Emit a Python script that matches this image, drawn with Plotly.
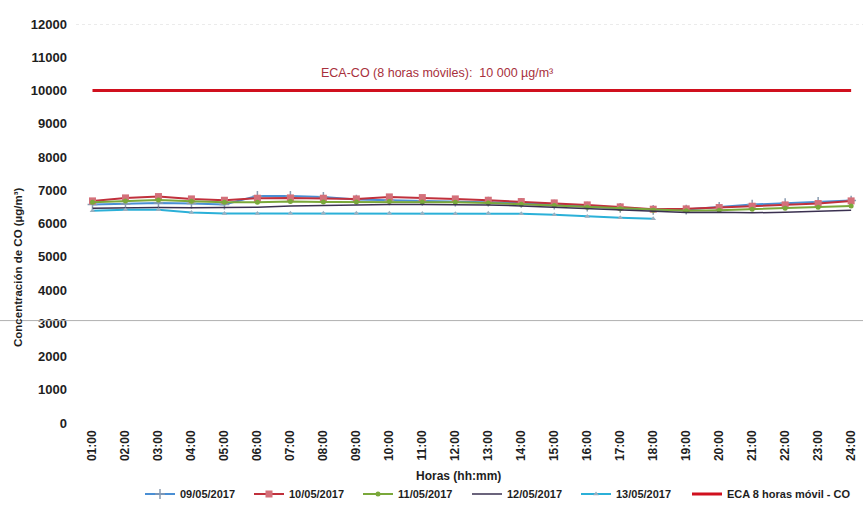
import plotly.graph_objects as go

hours = ["01:00", "02:00", "03:00", "04:00", "05:00", "06:00", "07:00", "08:00",
         "09:00", "10:00", "11:00", "12:00", "13:00", "14:00", "15:00", "16:00",
         "17:00", "18:00", "19:00", "20:00", "21:00", "22:00", "23:00", "24:00"]

s_0905 = [6570, 6590, 6620, 6600, 6570, 6830, 6830, 6800, 6720, 6700, 6680, 6660,
          6660, 6620, 6570, 6510, 6470, 6410, 6420, 6500, 6570, 6610, 6650, 6690]
s_1005 = [6680, 6770, 6810, 6740, 6700, 6760, 6770, 6760, 6740, 6800, 6780, 6740,
          6700, 6660, 6620, 6560, 6500, 6430, 6440, 6480, 6520, 6560, 6600, 6680]
s_1105 = [6640, 6680, 6710, 6670, 6640, 6640, 6660, 6650, 6650, 6660, 6650, 6640,
          6620, 6580, 6540, 6490, 6440, 6400, 6380, 6400, 6430, 6460, 6490, 6530]
s_1205 = [6460, 6480, 6480, 6470, 6470, 6490, 6530, 6550, 6560, 6570, 6570, 6570,
          6560, 6530, 6490, 6440, 6400, 6370, 6330, 6340, 6320, 6340, 6370, 6400]
s_1305 = [6380, 6410, 6410, 6330, 6300, 6300, 6310, 6310, 6310, 6310, 6300, 6290,
          6310, 6290, 6260, 6210, 6170, 6140, None, None, None, None, None, None]
eca = [10000] * len(hours)

y_ticks = [0, 1000, 2000, 3000, 4000, 5000, 6000, 7000, 8000, 9000, 10000, 11000, 12000]

FONT = "Liberation Sans"
TXT = "#1E1E1E"

fig = go.Figure()
fig.add_trace(go.Scatter(x=hours, y=s_0905, name="09/05/2017", mode="lines+markers",
                         line=dict(color="#4A8FD4", width=2),
                         marker=dict(symbol="cross-thin", size=7, line=dict(color="#8A9BB0", width=1.5))))
fig.add_trace(go.Scatter(x=hours, y=s_1005, name="10/05/2017", mode="lines+markers",
                         line=dict(color="#C0303C", width=2),
                         marker=dict(symbol="square", size=7, color="#D4707A")))
fig.add_trace(go.Scatter(x=hours, y=s_1105, name="11/05/2017", mode="lines+markers",
                         line=dict(color="#7AA83A", width=2),
                         marker=dict(symbol="circle", size=5, color="#7AA83A")))
fig.add_trace(go.Scatter(x=hours, y=s_1205, name="12/05/2017", mode="lines",
                         line=dict(color="#3A3050", width=1.5)))
fig.add_trace(go.Scatter(x=hours, y=s_1305, name="13/05/2017", mode="lines+markers",
                         line=dict(color="#2BB0D8", width=2),
                         marker=dict(symbol="triangle-up", size=5, color="#9AB0C0")))
fig.add_trace(go.Scatter(x=hours, y=eca, name="ECA 8 horas móvil - CO", mode="lines",
                         line=dict(color="#D0101E", width=3), legend="legend2"))

fig.add_annotation(x=0.459, xref="paper", y=10000, yref="y", yshift=18,
                   text="ECA-CO (8 horas móviles):  10 000 µg/m³", showarrow=False,
                   font=dict(family=FONT, size=12.5, color="#A8303C"), xanchor="center")

# axis titles as annotations (paper coords: plot area x 76..863, y 24..423 px)
fig.add_annotation(x=(458 - 76) / 787, xref="paper", y=(423 - 476) / 399, yref="paper",
                   xanchor="center", yanchor="middle",
                   text="<b>Horas (hh:mm)</b>", showarrow=False,
                   font=dict(family=FONT, size=12, color=TXT))
fig.add_annotation(x=(18 - 76) / 787, xref="paper", y=(423 - 268) / 399, yref="paper",
                   xanchor="center", yanchor="middle",
                   text="<b>Concentración de CO (µg/m³)</b>", showarrow=False, textangle=-90,
                   font=dict(family=FONT, size=11.5, color=TXT))

# faint top line at 12000
fig.add_shape(type="line", xref="paper", x0=0.0, x1=1, y0=12000, y1=12000, yref="y",
              line=dict(color="#D8D8D8", width=1, dash="dot"))
# scan line near 3000
fig.add_shape(type="line", xref="paper", x0=-0.1, x1=1, y0=3080, y1=3080, yref="y",
              line=dict(color="#B0B0B0", width=1))

legend_common = dict(orientation="h", xref="container",
                     yref="container", y=13/507, yanchor="middle",
                     font=dict(family=FONT, size=11, color=TXT),
                     itemwidth=30, bgcolor="rgba(0,0,0,0)")

fig.update_layout(
    width=863, height=507,
    margin=dict(l=76, r=0, t=24, b=84, autoexpand=False),
    paper_bgcolor="white", plot_bgcolor="white",
    font=dict(family=FONT, size=11, color=TXT),
    showlegend=True,
    legend=dict(x=140/863, xanchor="left", entrywidth=64, entrywidthmode="pixels", **legend_common),
    legend2=dict(x=856/863, xanchor="right", **legend_common),
    xaxis=dict(type="category", range=[-0.5, 23.36], tickangle=-90,
               showgrid=False, showline=False, zeroline=False, ticks="",
               automargin=False, ticklabelstandoff=4,
               tickfont=dict(family=FONT, size=12, color=TXT)),
    yaxis=dict(range=[0, 12000], tickvals=y_ticks,
               ticktext=[f"<b>{v}</b>" for v in y_ticks],
               showgrid=False, showline=False, zeroline=False, ticks="",
               automargin=False, ticklabelstandoff=8,
               tickfont=dict(family=FONT, size=13, color=TXT)),
)
fig.update_xaxes(ticktext=[f"<b>{h}</b>" for h in hours], tickvals=hours)

for tr in fig.data:
    tr.name = f"<b>{tr.name}</b>"

fig.write_html("out.html", config={"displayModeBar": False},
               post_script="document.body.style.margin='0';document.body.style.overflow='hidden';")
